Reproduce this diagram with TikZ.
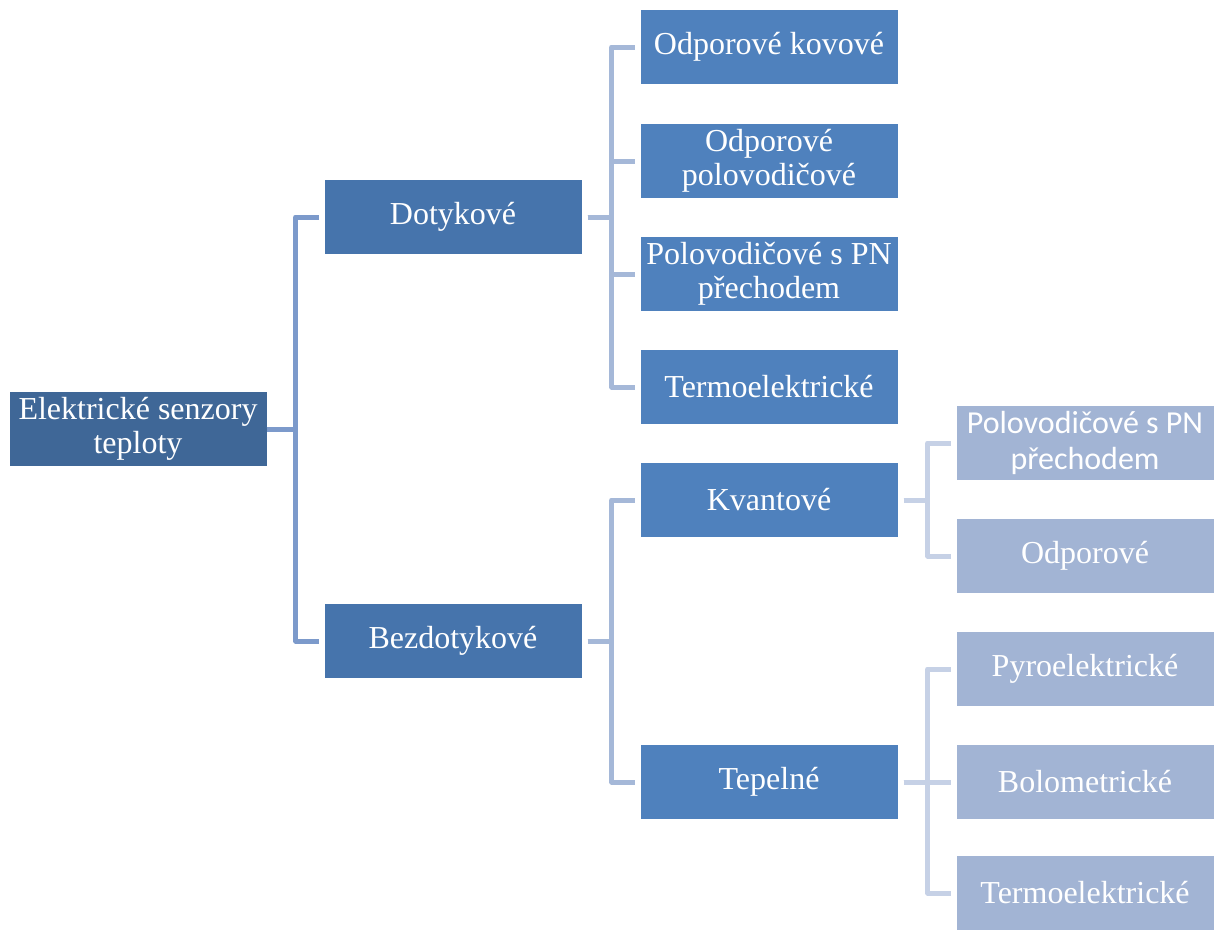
\documentclass[tikz,border=0pt]{standalone}
\usepackage{fontspec}
\setmainfont{Liberation Serif}
\newfontfamily\calfont{Carlito}
\usepackage{tikz}
\usetikzlibrary{positioning}
\definecolor{rootblue}{RGB}{63,103,151}
\definecolor{oneblue}{RGB}{70,116,172}
\definecolor{twoblue}{RGB}{79,129,189}
\definecolor{threeblue}{RGB}{162,180,212}
\definecolor{linkone}{RGB}{124,154,203}
\definecolor{linktwo}{RGB}{165,184,216}
\definecolor{linkthree}{RGB}{198,209,230}

\tikzset{
  box/.style={minimum width=257pt, minimum height=74pt, inner sep=0pt,
    text=white, align=center, font=\fontsize{32}{34}\selectfont},
  rootbox/.style={box, fill=rootblue},
  onebox/.style={box, fill=oneblue},
  twobox/.style={box, fill=twoblue},
  threebox/.style={box, fill=threeblue},
  conn/.style={line width=5pt, line join=round}
}

\begin{document}
\begin{tikzpicture}[x=1pt, y=-1pt]
  \useasboundingbox (0,0) rectangle (1220,929);

  % Boxes
  \node[rootbox] (root) at (138,429) {Elektrické senzory\\teploty};
  \node[onebox] (dot) at (453,217) {Dotykové};
  \node[onebox] (bez) at (453,641) {Bezdotykové};

  \node[twobox] (kov) at (769,47) {Odporové kovové};
  \node[twobox] (pol) at (769,161) {Odporové\\polovodičové};
  \node[twobox] (pn) at (769,274) {Polovodičové s PN\\přechodem};
  \node[twobox] (term) at (769,387) {Termoelektrické};
  \node[twobox] (kvant) at (769,500) {Kvantové};
  \node[twobox] (tep) at (769,782) {Tepelné};

  \node[threebox, font=\calfont\fontsize{32}{36}\selectfont] (kpn) at (1085,443) {Polovodičové s PN\\přechodem};
  \node[threebox] (kodp) at (1085,556) {Odporové};
  \node[threebox] (pyro) at (1085,669) {Pyroelektrické};
  \node[threebox] (bolo) at (1085,782) {Bolometrické};
  \node[threebox] (tterm) at (1085,893) {Termoelektrické};

  % Connectors
  \foreach \t in {dot,bez}
    \draw[conn, linkone] (root.east) -- ++(29,0) |- ([xshift=-5pt]\t.west);
  \foreach \t in {kov,pol,pn,term}
    \draw[conn, linktwo] ([xshift=6pt]dot.east) -- ++(24,0) |- ([xshift=-5pt]\t.west);
  \foreach \t in {kvant,tep}
    \draw[conn, linktwo] ([xshift=6pt]bez.east) -- ++(24,0) |- ([xshift=-5pt]\t.west);
  \foreach \t in {kpn,kodp}
    \draw[conn, linkthree] ([xshift=6pt]kvant.east) -- ++(24,0) |- ([xshift=-5pt]\t.west);
  \foreach \t in {pyro,bolo,tterm}
    \draw[conn, linkthree] ([xshift=6pt]tep.east) -- ++(24,0) |- ([xshift=-5pt]\t.west);
\end{tikzpicture}
\end{document}
